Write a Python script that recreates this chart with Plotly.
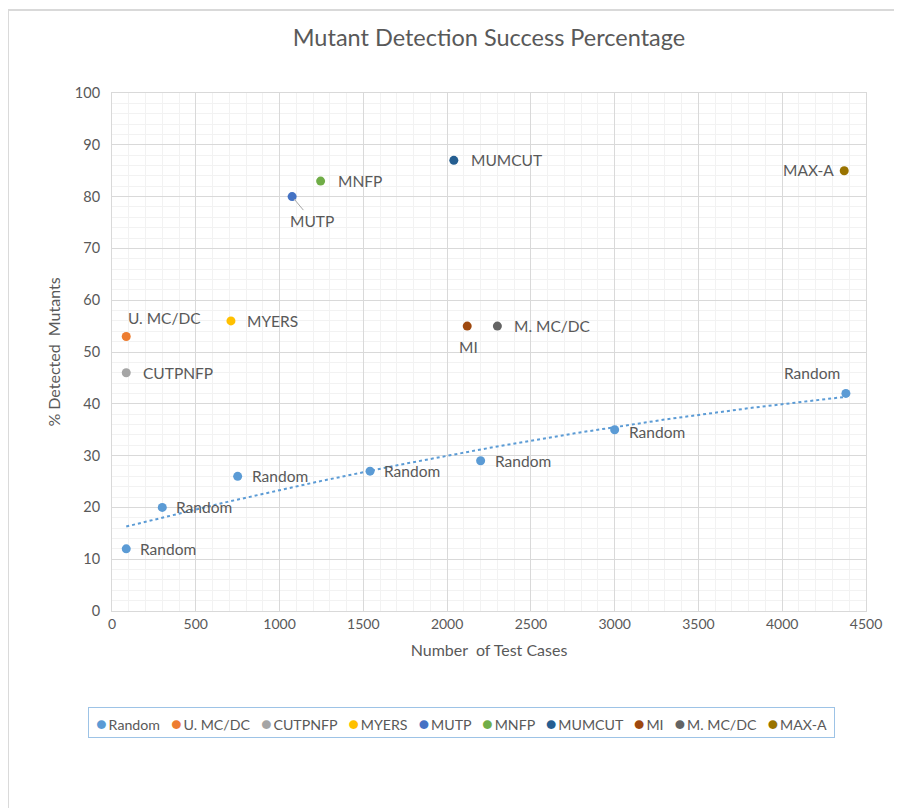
import numpy as np
import plotly.graph_objects as go

# ---- data ----
random_x = [85, 300, 750, 1540, 2200, 3000, 4380]
random_y = [12, 20, 26, 27, 29, 35, 42]

series_names = ["U. MC/DC", "CUTPNFP", "MYERS", "MUTP", "MNFP", "MUMCUT", "MI", "M. MC/DC", "MAX-A"]
series_x = [85, 85, 710, 1075, 1245, 2040, 2120, 2300, 4370]
series_y = [53, 46, 56, 80, 83, 87, 55, 55, 85]
series_colors = ["#ED7D31", "#A5A5A5", "#FFC000", "#4472C4", "#70AD47", "#255E91", "#9E480E", "#636363", "#997300"]
random_color = "#5B9BD5"

x_ticks = [0, 500, 1000, 1500, 2000, 2500, 3000, 3500, 4000, 4500]
y_ticks = [0, 10, 20, 30, 40, 50, 60, 70, 80, 90, 100]

FONT = "Lato"
TXT = "#595959"

fig = go.Figure()

# trendline (quadratic fit through Random points)
coef = np.polyfit(random_x, random_y, 2)
tx = np.linspace(min(random_x), max(random_x), 200)
ty = np.polyval(coef, tx)
fig.add_trace(go.Scatter(x=tx, y=ty, mode="lines", showlegend=False, hoverinfo="skip",
                         line=dict(color=random_color, width=2, dash="dot")))

fig.add_trace(go.Scatter(x=random_x, y=random_y, mode="markers", name="Random",
                         marker=dict(color=random_color, size=9)))
for n, x, y, c in zip(series_names, series_x, series_y, series_colors):
    fig.add_trace(go.Scatter(x=[x], y=[y], mode="markers", name=n,
                             marker=dict(color=c, size=9)))

# data labels
lab_font = dict(family=FONT, size=15.5, color=TXT)
def lab(x, y, text, xanchor="left", xshift=0, yshift=0):
    fig.add_annotation(x=x, y=y, text=text, showarrow=False, xanchor=xanchor, yanchor="middle",
                       xshift=xshift, yshift=yshift, font=lab_font)

for i, (x, y) in enumerate(zip(random_x, random_y)):
    if i == len(random_x) - 1:
        lab(x, y, "Random", xanchor="center", xshift=-34, yshift=20)
    elif i == 5:
        lab(x, y, "Random", xshift=12, yshift=-2)
    else:
        lab(x, y, "Random", xshift=12)

offsets = {
    "U. MC/DC": ("left", 0, 18),
    "CUTPNFP": ("left", 15, 0),
    "MYERS": ("left", 14, 0),
    "MNFP": ("left", 15, 0),
    "MUMCUT": ("left", 15, 0),
    "MI": ("center", 1, -21),
    "M. MC/DC": ("left", 15, 0),
    "MAX-A": ("right", -8, 1),
}
for n, x, y in zip(series_names, series_x, series_y):
    if n == "MUTP":
        fig.add_annotation(x=x, y=y, text=n, showarrow=True, arrowhead=0, arrowwidth=1,
                           arrowcolor="#A6A6A6", ax=20, ay=24, standoff=3,
                           font=lab_font)
    else:
        a, xs, ys = offsets[n]
        lab(x, y, n, xanchor=a, xshift=xs, yshift=ys)

# legend box (compact, Excel style)
legend_names = ["Random"] + series_names
legend_colors = [random_color] + series_colors
legend_text = "&nbsp;&nbsp;&nbsp;".join(
    f'<span style="color:{c};font-size:18px">●</span>&#8201;{n}' for n, c in zip(legend_names, legend_colors))
fig.add_annotation(xref="paper", yref="paper", x=0.463, y=-0.216, xanchor="center", yanchor="middle",
                   text=legend_text, showarrow=False, font=dict(family=FONT, size=14.2, color=TXT),
                   bordercolor="#9DC3E6", borderwidth=1, borderpad=0, width=745, height=29,
                   align="center", valign="middle", bgcolor="white")

# chart-area border
fig.add_shape(type="rect", xref="paper", yref="paper", x0=-0.138, x1=1.08, y0=-0.45, y1=1.16,
              line=dict(color="#D9D9D9", width=2), layer="below")

fig.update_layout(
    width=894, height=800,
    margin=dict(l=104, r=36, t=85, b=197),
    paper_bgcolor="white", plot_bgcolor="white",
    title=dict(text="Mutant Detection Success Percentage", x=0.5, xref="paper", xanchor="center",
               y=1 - 30 / 800, yanchor="middle",
               font=dict(family=FONT, size=23.5, color=TXT)),
    font=dict(family=FONT, color=TXT),
    showlegend=False,
)
fig.update_xaxes(range=[0, 4500], tickvals=x_ticks, showgrid=True, gridcolor="#D9D9D9", gridwidth=1,
                 minor=dict(dtick=100, showgrid=True, gridcolor="#F2F2F2"),
                 zeroline=False, showline=True, linecolor="#D9D9D9", mirror=True, ticks="",
                 tickfont=dict(family=FONT, size=14, color=TXT),
                 title=dict(text="Number  of Test Cases", font=dict(family=FONT, size=16, color=TXT), standoff=14))
fig.update_yaxes(range=[0, 100], tickvals=y_ticks, showgrid=True, gridcolor="#D9D9D9", gridwidth=1,
                 minor=dict(dtick=2, showgrid=True, gridcolor="#F2F2F2"),
                 zeroline=False, showline=True, linecolor="#D9D9D9", mirror=True, ticks="",
                 tickfont=dict(family=FONT, size=14.5, color=TXT), ticklabelstandoff=8,
                 title=dict(text="% Detected  Mutants", font=dict(family=FONT, size=16, color=TXT), standoff=10))

fig.write_html("out.html")
